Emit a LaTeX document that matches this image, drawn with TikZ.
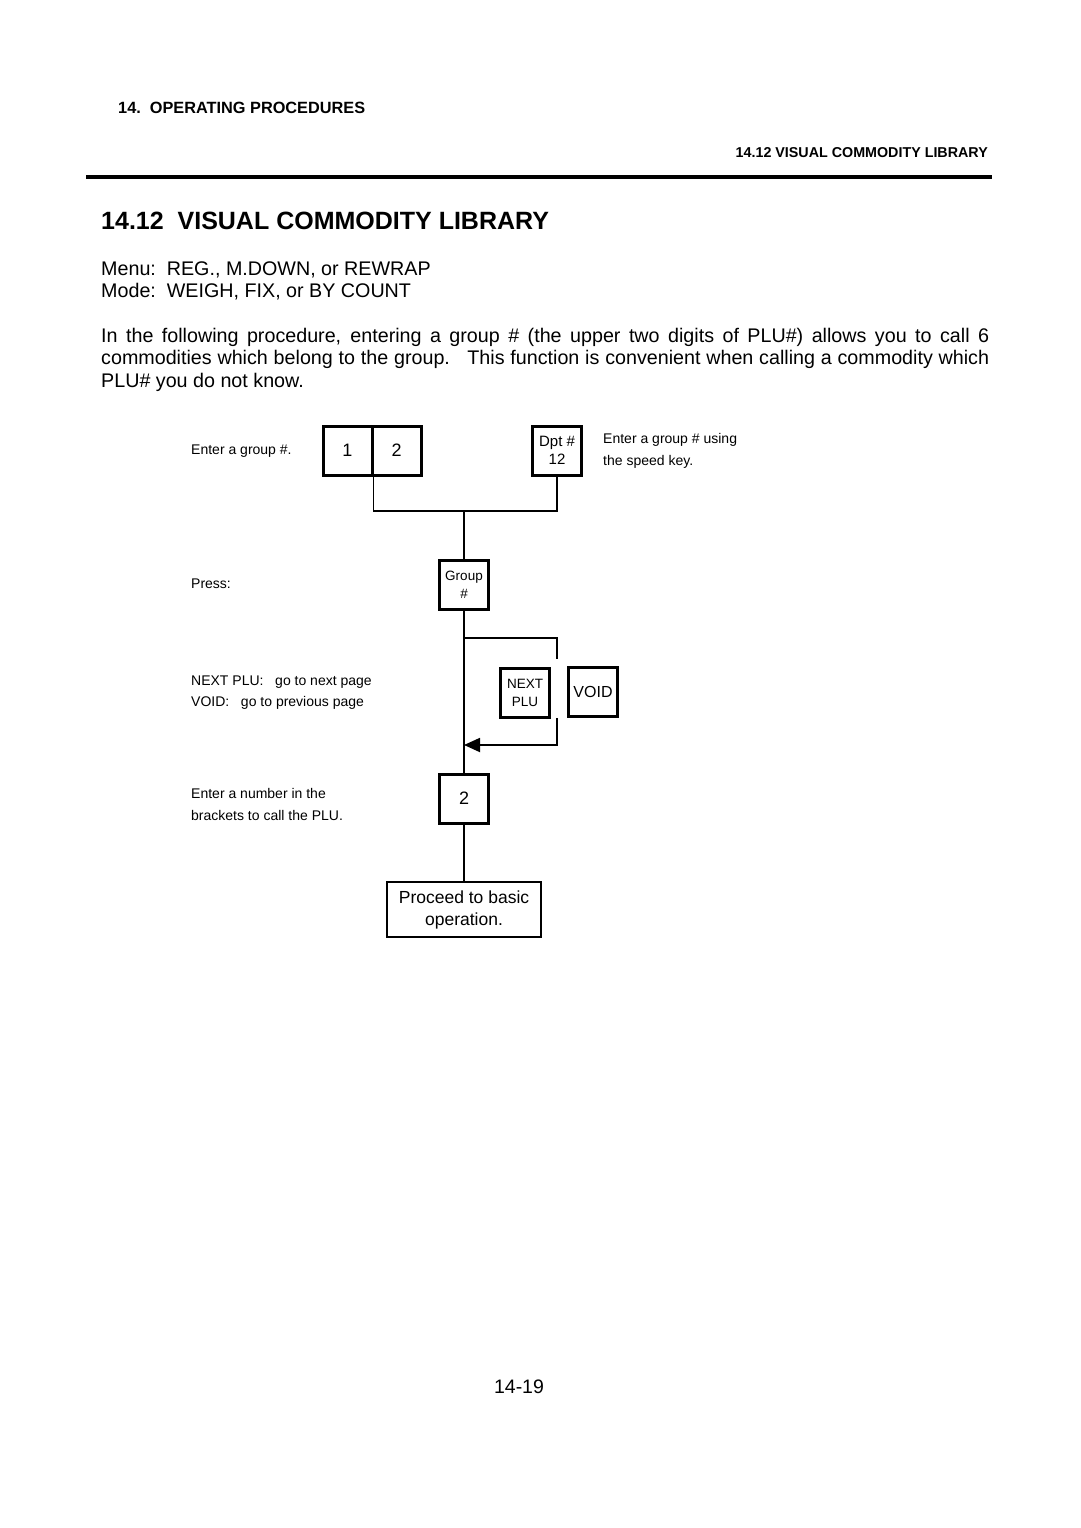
\documentclass[tikz,border=0pt]{standalone}
\usepackage{fontspec}
\setmainfont{Liberation Sans}
\usetikzlibrary{arrows.meta}
\newcommand\fsz[2]{\fontsize{#1pt}{#2pt}\selectfont}
\tikzset{
  key/.style={draw, line width=3pt, minimum width=49pt, minimum height=49pt, inner sep=0pt, align=center, font=\fsz{13.5}{18}},
  lbl/.style={anchor=base west, inner sep=0pt, font=\fsz{14}{15}},
  body/.style={anchor=base west, inner sep=0pt, font=\fsz{19.7}{22.5}},
  conn/.style={line width=1.8pt},
}
\begin{document}
\begin{tikzpicture}[x=1pt,y=-1pt]
\useasboundingbox (0,0) rectangle (1080,1528);
\fill[white] (0,0) rectangle (1080,1528);
% header
\node[anchor=base west, inner sep=0pt, font=\fsz{16.3}{18}\bfseries] (hdl) at (118,113) {14.\ \ OPERATING PROCEDURES};
\node[anchor=base east, inner sep=0pt, font=\fsz{14.3}{15}\bfseries] (hdr) at (988,157) {14.12 VISUAL COMMODITY LIBRARY};
\coordinate (rl) at (86,177);
\coordinate (rr) at (992,177);
\draw[line width=4pt] (rl) -- (rr);
% title
\node[anchor=base west, inner sep=0pt, font=\fsz{25}{28}\bfseries] (title) at (101,229) {14.12\ \ VISUAL COMMODITY LIBRARY};
\node[body] (menu) at (101,275) {Menu:\ \ REG., M.DOWN, or REWRAP};
\node[body] (mode) at (101,297) {Mode:\ \ WEIGH, FIX, or BY COUNT};
\node[body] (p1) at (101,342) {\makebox[888pt][s]{In the following procedure, entering a group \# (the upper two digits of PLU\#) allows you to call 6}};
\node[body] (p2) at (101,364.5) {\makebox[888pt][s]{commodities which belong to the group.\ \ \ This function is convenient when calling a commodity which}};
\node[body] (p3) at (101,387) {PLU\# you do not know.};
% left labels
\node[lbl] (l1) at (191,454) {Enter a group \#.};
\node[lbl] (l2) at (191,588) {Press:};
\node[lbl] (l3) at (191,685) {NEXT PLU:\ \ \ go to next page};
\node[lbl] (l4) at (191,706) {VOID:\ \ \ go to previous page};
\node[lbl] (l5) at (191,798) {Enter a number in the};
\node[lbl] (l6) at (191,820) {brackets to call the PLU.};
\node[lbl] (r1) at (603,443) {Enter a group \# using};
\node[lbl] (r2) at (603,465) {the speed key.};
% keys
\node[key, font=\fsz{18}{20}] (k1) at (347.5,450.5) {1};
\node[key, font=\fsz{18}{20}] (k2) at (396.5,450.5) {2};
\node[key, font=\fsz{15}{18}] (dpt) at (557,450.5) {Dpt \#\\12};
\node[key] (grp) at (464,585) {Group\\\#};
\node[key] (nxt) at (525,692.5) {NEXT\\PLU};
\node[key, font=\fsz{16}{18}] (void) at (593,692) {VOID};
\node[key, font=\fsz{18}{20}] (two) at (464,798.5) {2};
\node[draw, line width=1.8pt, minimum width=154pt, minimum height=55pt, inner sep=0pt, align=center, font=\fsz{17.5}{22}] (proc) at (464,909.5) {Proceed to basic\\operation.};
% connectors
\coordinate (j) at (464,511);
\draw[conn] (k1.south east) |- (j) -| (dpt.south);
\draw[conn] (j) -- (grp.north);
\draw[conn] (grp.south) -- (two.north);
\coordinate (lt) at (464,638);
\coordinate (ltr) at (557,659);
\coordinate (lbr) at (557,718);
\coordinate (lb) at (464,745);
\draw[conn] (lt) -| (ltr);
\draw[conn, -{Triangle[length=16pt,width=14pt]}] (lbr) |- (lb);
\draw[conn] (two.south) -- (proc.north);
% page number
\node[anchor=base, inner sep=0pt, font=\fsz{19.5}{22}] (pg) at (519,1393) {14-19};
\end{tikzpicture}
\end{document}
